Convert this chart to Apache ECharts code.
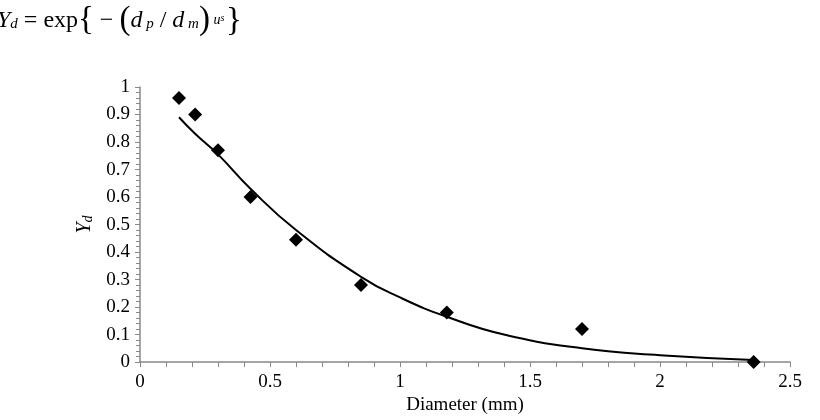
<!DOCTYPE html>
<html>
<head>
<meta charset="utf-8">
<script src="https://cdn.jsdelivr.net/npm/echarts@6/dist/echarts.min.js"></script>
<style>
  html, body { margin: 0; padding: 0; background: #fff; }
  #chart { width: 820px; height: 420px; }
</style>
</head>
<body>
<div id="chart"></div>
<script>
// measured points (sieve diameter in mm, Yd)
const sieveSizes = [0.15, 0.212, 0.3, 0.425, 0.6, 0.85, 1.18, 1.7, 2.36]
const measuredYd = [0.96, 0.90, 0.77, 0.60, 0.445, 0.28, 0.18, 0.12, 0.0]

// fitted curve
const fitDiameters = [0.15, 0.212, 0.3, 0.425, 0.6, 0.85, 1.0, 1.18, 1.4, 1.7, 2.0, 2.36]
const fitYd = [0.89, 0.83, 0.755, 0.63, 0.48, 0.31, 0.235, 0.165, 0.1, 0.05, 0.025, 0.008]

const serif = '"Liberation Serif", "DejaVu Serif", serif'

const chart = echarts.init(document.getElementById('chart'))

chart.setOption({
  backgroundColor: '#fff',
  animation: false,
  grid: { left: 140, right: 30, top: 87, bottom: 53 },
  graphic: [
    {
      type: 'text',
      left: -3,
      top: 4,
      style: {
        text: '{i|Y}{sub|d}{n| = exp}{big|{}{n| − }{big|(}{i|d}{sub| p}{n| / }{i|d}{sub| m}{big|)}{sup| u}{ss|s}',
        rich: {
          i: { fontFamily: serif, fontStyle: 'italic', fontSize: 24, fill: '#000', verticalAlign: 'bottom', height: 36 },
          n: { fontFamily: serif, fontSize: 24, fill: '#000', verticalAlign: 'bottom', height: 36 },
          big: { fontFamily: serif, fontSize: 33, fill: '#000', verticalAlign: 'bottom', height: 37 },
          sub: { fontFamily: serif, fontStyle: 'italic', fontSize: 15, fill: '#000', verticalAlign: 'bottom', height: 29 },
          sup: { fontFamily: serif, fontStyle: 'italic', fontSize: 14, fill: '#000', verticalAlign: 'top', height: 36 },
          ss: { fontFamily: serif, fontStyle: 'italic', fontSize: 10, fill: '#000', verticalAlign: 'top', height: 32 }
        }
      }
    },
    {
      type: 'text',
      left: 226,
      top: 5,
      style: { text: '}', fontFamily: serif, fontSize: 33, fill: '#000' }
    }
  ],
  xAxis: {
    type: 'value',
    min: 0,
    max: 2.5,
    interval: 0.5,
    name: 'Diameter (mm)',
    nameLocation: 'middle',
    nameGap: 29,
    nameTextStyle: { fontFamily: serif, fontSize: 19, color: '#000' },
    axisLine: { show: true, lineStyle: { color: '#888', width: 1.5 } },
    axisTick: { show: true, length: 5, lineStyle: { color: '#888' } },
    minorTick: { show: true, splitNumber: 5, length: 5, lineStyle: { color: '#888' } },
    splitLine: { show: false },
    axisLabel: { fontFamily: serif, fontSize: 19, color: '#000', margin: 10 }
  },
  yAxis: {
    type: 'value',
    min: 0,
    max: 1,
    interval: 0.1,
    name: '{i|Y}{s|d}',
    nameLocation: 'middle',
    nameGap: 33,
    nameRotate: 90,
    nameTextStyle: {
      rich: {
        i: { fontFamily: serif, fontStyle: 'italic', fontSize: 20, color: '#000' },
        s: { fontFamily: serif, fontStyle: 'italic', fontSize: 14, color: '#000', verticalAlign: 'bottom', padding: [8, 0, 0, 0] }
      }
    },
    axisLine: { show: true, lineStyle: { color: '#888', width: 1.5 } },
    axisTick: { show: true, length: 5, lineStyle: { color: '#888' } },
    minorTick: { show: true, splitNumber: 5, length: 4, lineStyle: { color: '#888' } },
    splitLine: { show: false },
    axisLabel: { fontFamily: serif, fontSize: 19, color: '#000', margin: 10 }
  },
  series: [
    {
      type: 'line',
      smooth: true,
      symbol: 'none',
      lineStyle: { color: '#000', width: 2 },
      data: fitDiameters.map((d, i) => [d, fitYd[i]]),
      z: 2
    },
    {
      type: 'scatter',
      symbol: 'diamond',
      symbolSize: 14,
      itemStyle: { color: '#000', opacity: 1 },
      data: sieveSizes.map((d, i) => [d, measuredYd[i]]),
      z: 3
    }
  ]
})
</script>
</body>
</html>
